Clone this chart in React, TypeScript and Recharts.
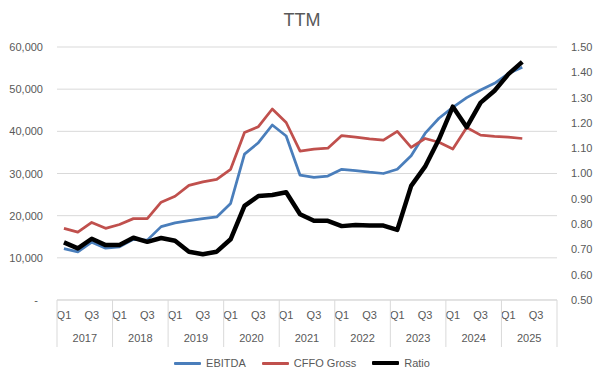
import { ComposedChart, Line, XAxis, YAxis, CartesianGrid } from 'recharts';

const years = ['2017', '2018', '2019', '2020', '2021', '2022', '2023', '2024', '2025'];
const quarters = ['Q1', 'Q2', 'Q3', 'Q4'];

// 2017 Q1 .. 2025 Q2
const ebitda = [
  12200, 11400, 13700, 12300, 12600, 14400, 14200, 17400, 18300, 18800, 19300, 19700,
  22900, 34600, 37300, 41500, 38900, 29600, 29100, 29400, 31000, 30700, 30300, 30000,
  31000, 34200, 39500, 43100, 45700, 48000, 49800, 51400, 53700, 55200,
];
const cffoGross = [
  17000, 16100, 18400, 17000, 17900, 19300, 19300, 23200, 24600, 27200, 28000, 28600,
  31000, 39700, 41100, 45300, 42100, 35300, 35800, 36000, 39000, 38600, 38200, 37900,
  40000, 36200, 38300, 37400, 35800, 40900, 39100, 38800, 38600, 38300,
];
const ratio = [
  0.728, 0.704, 0.742, 0.717, 0.717, 0.746, 0.73, 0.745, 0.734, 0.691, 0.681, 0.691,
  0.74, 0.872, 0.911, 0.915, 0.926, 0.839, 0.813, 0.813, 0.792, 0.796, 0.794, 0.794,
  0.777, 0.951, 1.027, 1.135, 1.264, 1.183, 1.28, 1.327, 1.393, 1.441,
];

const leftTicks = [0, 10000, 20000, 30000, 40000, 50000, 60000];
const rightTicks = [0.5, 0.6, 0.7, 0.8, 0.9, 1.0, 1.1, 1.2, 1.3, 1.4, 1.5];

const W = 604;
const H = 381;
const LEFT_W = 57;
const RIGHT_W = 47;
const X_H = 30;
const M = { top: 47, right: 0, bottom: 81 - X_H, left: 0 };
const BAND = (W - LEFT_W - RIGHT_W) / (years.length * quarters.length);
const FONT = '"Liberation Sans", Arial, sans-serif';
const TEXT = '#595959';
const GRID = '#d9d9d9';

const data = years.flatMap((y, yi) =>
  quarters.map((q, qi) => {
    const i = yi * 4 + qi;
    return {
      key: `${y} ${q}`,
      ebitda: i < ebitda.length ? ebitda[i] : null,
      cffo: i < cffoGross.length ? cffoGross[i] : null,
      ratio: i < ratio.length ? ratio[i] : null,
    };
  })
);

function QuarterTick(props: any) {
  const { x, y, payload, index } = props;
  const [yr, q] = String(payload.value).split(' ');
  const last = index === data.length - 1;
  return (
    <g>
      {(q === 'Q1' || q === 'Q3') && (
        <text x={x} y={y + 19} textAnchor="middle" fontSize={11} fill={TEXT} fontFamily={FONT}>
          {q}
        </text>
      )}
      {q === 'Q2' && (
        <text x={x + BAND / 2} y={y + 42} textAnchor="middle" fontSize={11} fill={TEXT} fontFamily={FONT}>
          {yr}
        </text>
      )}
      {q === 'Q1' && <line x1={x - BAND / 2} x2={x - BAND / 2} y1={y} y2={y + 47} stroke={GRID} />}
      {last && <line x1={x + BAND / 2} x2={x + BAND / 2} y1={y} y2={y + 47} stroke={GRID} />}
    </g>
  );
}

function LeftTick(props: any) {
  const { x, y, payload } = props;
  const v = Number(payload.value);
  return (
    <text x={v === 0 ? x - 5 : x} y={y + 4} textAnchor="end" fontSize={11} fill={TEXT} fontFamily={FONT}>
      {v === 0 ? '-' : v.toLocaleString('en-US')}
    </text>
  );
}

const legendItems = [
  { name: 'EBITDA', color: '#4a7ebb', width: 3 },
  { name: 'CFFO Gross', color: '#c0504d', width: 3 },
  { name: 'Ratio', color: '#000000', width: 4.5 },
];

export default function App() {
  return (
    <div style={{ position: 'absolute', left: 0, top: 0, width: W, height: H, background: '#fff' }}>
      <div
        style={{
          position: 'absolute',
          top: 10,
          width: W,
          textAlign: 'center',
          fontFamily: FONT,
          fontSize: 18,
          color: TEXT,
        }}
      >
        TTM
      </div>
      <ComposedChart width={W} height={H} data={data} margin={M}>
        <CartesianGrid yAxisId="left" vertical={false} stroke={GRID} />
        <XAxis
          dataKey="key"
          scale="band"
          interval={0}
          height={X_H}
          tickLine={false}
          tickSize={0}
          tickMargin={0}
          axisLine={{ stroke: GRID }}
          tick={<QuarterTick />}
        />
        <YAxis
          yAxisId="left"
          domain={[0, 60000]}
          ticks={leftTicks}
          width={LEFT_W}
          axisLine={false}
          tickLine={false}
          tickSize={0}
          tickMargin={14}
          tick={<LeftTick />}
        />
        <YAxis
          yAxisId="right"
          orientation="right"
          domain={[0.5, 1.5]}
          ticks={rightTicks}
          width={RIGHT_W}
          axisLine={false}
          tickLine={false}
          tickSize={0}
          tickMargin={14}
          tickFormatter={(v: number) => v.toFixed(2)}
          tick={{ fontSize: 11, fill: TEXT, fontFamily: FONT, textAnchor: 'start' }}
        />
        <Line
          yAxisId="left"
          dataKey="ebitda"
          stroke="#4a7ebb"
          strokeWidth={2.75}
          dot={false}
          isAnimationActive={false}
          strokeLinejoin="round"
        />
        <Line
          yAxisId="left"
          dataKey="cffo"
          stroke="#c0504d"
          strokeWidth={2.75}
          dot={false}
          isAnimationActive={false}
          strokeLinejoin="round"
        />
        <Line
          yAxisId="right"
          dataKey="ratio"
          stroke="#000000"
          strokeWidth={4.5}
          dot={false}
          isAnimationActive={false}
          strokeLinejoin="round"
        />
      </ComposedChart>
      <div
        style={{
          position: 'absolute',
          top: 357,
          width: W,
          display: 'flex',
          justifyContent: 'center',
          gap: 16,
          fontFamily: FONT,
          fontSize: 11,
          color: TEXT,
        }}
      >
        {legendItems.map((it) => (
          <div key={it.name} style={{ display: 'flex', alignItems: 'center', gap: 5 }}>
            <div style={{ width: 27, height: it.width, background: it.color, borderRadius: 1 }} />
            <span>{it.name}</span>
          </div>
        ))}
      </div>
    </div>
  );
}
